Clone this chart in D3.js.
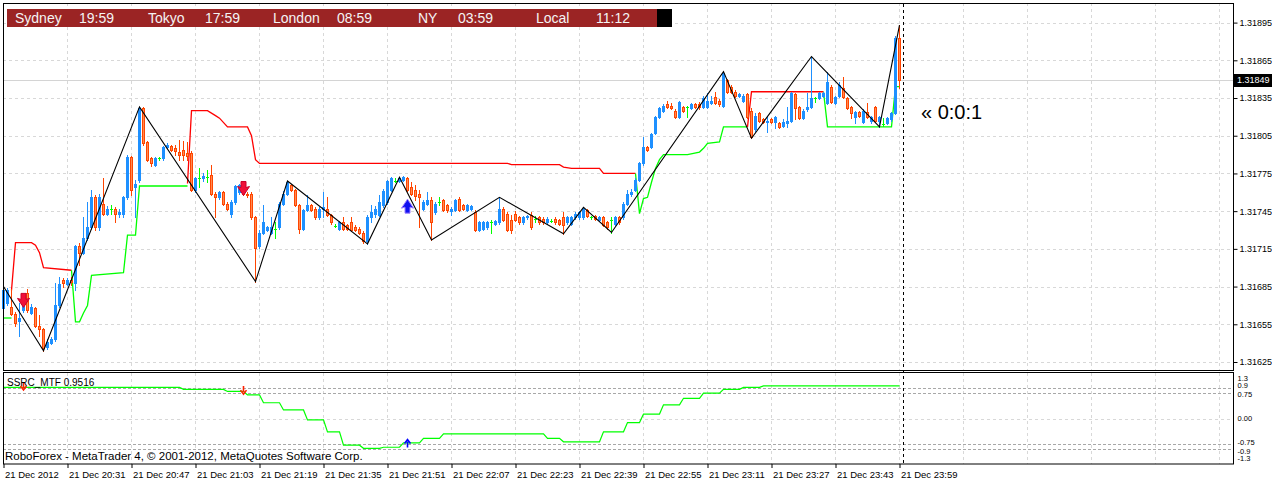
<!DOCTYPE html>
<html><head><meta charset="utf-8">
<script src="https://cdn.jsdelivr.net/npm/d3@7"></script>
<style>
body{margin:0;background:#fff;}
svg{display:block;}
text{font-family:"Liberation Sans",Arial,sans-serif;}
</style>
</head><body>
<svg id="c" width="1272" height="482"></svg>
<script>
// ---------- DATA ----------
const priceTicks = [1.31625,1.31655,1.31685,1.31715,1.31745,1.31775,1.31805,1.31835,1.31865,1.31895];
const timeLabels = ["21 Dec 2012","21 Dec 20:31","21 Dec 20:47","21 Dec 21:03","21 Dec 21:19","21 Dec 21:35","21 Dec 21:51","21 Dec 22:07","21 Dec 22:23","21 Dec 22:39","21 Dec 22:55","21 Dec 23:11","21 Dec 23:27","21 Dec 23:43","21 Dec 23:59"];
const timeIdx = [0,16,32,48,64,80,96,112,128,144,160,176,192,208,224];
const gridIdx = [0,16,32,48,64,80,96,112,128,144,160,176,192,208,224,240,256,272,288,304];
const lastPrice = 1.31849;
const ssrcTicks = [1.3,0.9,0.75,0,-0.75,-0.9,-1.3];
const ssrcTickLabels = ["1.3","0.9","0.75","0.00","-0.75","-0.9","-1.3"];
const ssrcLevels = [0.9,0.75,-0.75,-0.9];
const headerNames = ["Sydney","Tokyo","London","NY","Local"];
const headerTimes = ["19:59","17:59","08:59","03:59","11:12"];

const open = [1.31668,1.31672,1.31669,1.31663,1.31658,1.31666,1.31680,1.31664,1.31668,1.31654,
1.31651,1.31637,1.31640,1.31643,1.31670,1.31690,1.31687,1.31690,1.31688,1.31717,
1.31712,1.31724,1.31732,1.31756,1.31732,1.31751,1.31743,1.31747,1.31747,1.31743,
1.31743,1.31756,1.31788,1.31764,1.31770,1.31827,1.31800,1.31787,1.31782,1.31787,
1.31787,1.31796,1.31797,1.31795,1.31792,1.31794,1.31791,1.31791,1.31762,1.31771,
1.31771,1.31772,1.31774,1.31759,1.31756,1.31760,1.31751,1.31743,1.31752,1.31760,
1.31761,1.31759,1.31759,1.31740,1.31717,1.31728,1.31730,1.31728,1.31731,1.31732,
1.31751,1.31759,1.31766,1.31762,1.31750,1.31731,1.31746,1.31750,1.31747,1.31740,
1.31747,1.31747,1.31742,1.31733,1.31731,1.31736,1.31734,1.31736,1.31732,1.31731,
1.31728,1.31721,1.31740,1.31743,1.31742,1.31750,1.31752,1.31762,1.31769,1.31769,
1.31770,1.31771,1.31764,1.31762,1.31759,1.31747,1.31751,1.31754,1.31744,1.31752,
1.31754,1.31750,1.31745,1.31746,1.31755,1.31750,1.31746,1.31747,1.31744,1.31730,
1.31731,1.31732,1.31736,1.31735,1.31736,1.31747,1.31743,1.31738,1.31743,1.31740,
1.31736,1.31740,1.31742,1.31739,1.31740,1.31739,1.31736,1.31737,1.31739,1.31738,
1.31740,1.31736,1.31735,1.31740,1.31740,1.31740,1.31746,1.31740,1.31741,1.31738,
1.31740,1.31736,1.31738,1.31735,1.31740,1.31740,1.31751,1.31759,1.31762,1.31770,
1.31783,1.31796,1.31796,1.31807,1.31820,1.31825,1.31830,1.31829,1.31825,1.31820,
1.31828,1.31828,1.31827,1.31830,1.31830,1.31828,1.31828,1.31831,1.31836,1.31833,
1.31829,1.31849,1.31844,1.31840,1.31837,1.31833,1.31838,1.31825,1.31810,1.31823,
1.31818,1.31816,1.31818,1.31816,1.31815,1.31813,1.31815,1.31817,1.31838,1.31828,
1.31819,1.31826,1.31828,1.31835,1.31835,1.31837,1.31831,1.31844,1.31831,1.31837,
1.31843,1.31835,1.31828,1.31820,1.31824,1.31816,1.31824,1.31817,1.31828,1.31817,
1.31814,1.31815,1.31818,1.31823,1.31883];

const high = [1.31684,1.31684,1.31683,1.31665,1.31672,1.31677,1.31683,1.31671,1.31669,1.31662,
1.31652,1.31643,1.31645,1.31688,1.31693,1.31692,1.31692,1.31693,1.31718,1.31720,
1.31740,1.31752,1.31762,1.31758,1.31759,1.31771,1.31749,1.31750,1.31748,1.31747,
1.31757,1.31790,1.31789,1.31770,1.31828,1.31828,1.31801,1.31788,1.31788,1.31788,
1.31797,1.31799,1.31798,1.31798,1.31802,1.31801,1.31800,1.31793,1.31772,1.31779,
1.31775,1.31778,1.31782,1.31760,1.31761,1.31761,1.31752,1.31754,1.31766,1.31767,
1.31763,1.31760,1.31760,1.31741,1.31730,1.31750,1.31733,1.31740,1.31736,1.31752,
1.31761,1.31769,1.31767,1.31763,1.31751,1.31747,1.31758,1.31751,1.31748,1.31748,
1.31760,1.31756,1.31743,1.31735,1.31737,1.31740,1.31735,1.31740,1.31734,1.31732,
1.31729,1.31742,1.31750,1.31749,1.31758,1.31763,1.31770,1.31772,1.31771,1.31772,
1.31773,1.31772,1.31768,1.31766,1.31762,1.31754,1.31760,1.31756,1.31752,1.31756,
1.31755,1.31751,1.31748,1.31755,1.31756,1.31751,1.31751,1.31750,1.31746,1.31737,
1.31737,1.31737,1.31738,1.31738,1.31756,1.31748,1.31744,1.31742,1.31745,1.31741,
1.31741,1.31742,1.31744,1.31741,1.31741,1.31740,1.31740,1.31739,1.31740,1.31739,
1.31744,1.31741,1.31741,1.31744,1.31745,1.31748,1.31747,1.31741,1.31742,1.31741,
1.31741,1.31737,1.31740,1.31741,1.31741,1.31752,1.31762,1.31763,1.31771,1.31784,
1.31804,1.31797,1.31807,1.31821,1.31828,1.31830,1.31833,1.31831,1.31826,1.31833,
1.31829,1.31829,1.31831,1.31831,1.31832,1.31837,1.31839,1.31837,1.31840,1.31834,
1.31856,1.31850,1.31845,1.31841,1.31839,1.31838,1.31839,1.31827,1.31823,1.31824,
1.31819,1.31821,1.31819,1.31821,1.31816,1.31818,1.31828,1.31840,1.31839,1.31829,
1.31826,1.31839,1.31868,1.31836,1.31840,1.31840,1.31856,1.31845,1.31837,1.31848,
1.31852,1.31836,1.31829,1.31825,1.31825,1.31826,1.31831,1.31821,1.31829,1.31821,
1.31819,1.31820,1.31824,1.31884,1.31893];

const low = [1.31666,1.31670,1.31662,1.31654,1.31646,1.31665,1.31665,1.31663,1.31653,1.31646,
1.31634,1.31635,1.31639,1.31642,1.31669,1.31685,1.31686,1.31686,1.31682,1.31702,
1.31711,1.31722,1.31731,1.31730,1.31730,1.31742,1.31742,1.31743,1.31736,1.31740,
1.31740,1.31755,1.31758,1.31740,1.31768,1.31798,1.31785,1.31781,1.31781,1.31786,
1.31786,1.31795,1.31793,1.31790,1.31786,1.31786,1.31786,1.31761,1.31760,1.31764,
1.31769,1.31768,1.31758,1.31740,1.31755,1.31750,1.31746,1.31740,1.31751,1.31759,
1.31758,1.31756,1.31739,1.31689,1.31716,1.31727,1.31729,1.31727,1.31724,1.31731,
1.31750,1.31758,1.31761,1.31749,1.31728,1.31730,1.31745,1.31745,1.31739,1.31739,
1.31740,1.31741,1.31735,1.31732,1.31730,1.31730,1.31730,1.31729,1.31729,1.31727,
1.31720,1.31719,1.31736,1.31740,1.31741,1.31748,1.31751,1.31761,1.31768,1.31768,
1.31769,1.31761,1.31758,1.31754,1.31732,1.31746,1.31750,1.31722,1.31743,1.31750,
1.31745,1.31744,1.31742,1.31745,1.31745,1.31746,1.31745,1.31746,1.31729,1.31729,
1.31730,1.31731,1.31728,1.31734,1.31735,1.31737,1.31729,1.31728,1.31737,1.31735,
1.31735,1.31739,1.31731,1.31736,1.31735,1.31735,1.31735,1.31736,1.31735,1.31734,
1.31727,1.31735,1.31734,1.31739,1.31739,1.31739,1.31740,1.31739,1.31738,1.31737,
1.31733,1.31731,1.31728,1.31734,1.31735,1.31739,1.31750,1.31757,1.31761,1.31769,
1.31782,1.31793,1.31795,1.31806,1.31819,1.31824,1.31827,1.31826,1.31819,1.31819,
1.31824,1.31820,1.31826,1.31827,1.31826,1.31827,1.31827,1.31830,1.31830,1.31829,
1.31828,1.31839,1.31839,1.31836,1.31836,1.31832,1.31819,1.31803,1.31809,1.31816,
1.31815,1.31808,1.31815,1.31811,1.31811,1.31812,1.31812,1.31816,1.31818,1.31818,
1.31818,1.31825,1.31827,1.31832,1.31834,1.31836,1.31830,1.31831,1.31830,1.31836,
1.31835,1.31826,1.31819,1.31815,1.31820,1.31815,1.31819,1.31815,1.31816,1.31812,
1.31813,1.31814,1.31817,1.31822,1.31843];

const close = [1.31682,1.31682,1.31663,1.31656,1.31660,1.31676,1.31666,1.31669,1.31654,1.31651,
1.31636,1.31641,1.31643,1.31670,1.31687,1.31688,1.31690,1.31689,1.31717,1.31712,
1.31724,1.31732,1.31756,1.31732,1.31756,1.31743,1.31747,1.31747,1.31743,1.31744,
1.31756,1.31788,1.31762,1.31767,1.31827,1.31799,1.31786,1.31783,1.31787,1.31787,
1.31796,1.31798,1.31794,1.31793,1.31790,1.31790,1.31789,1.31762,1.31771,1.31771,
1.31773,1.31772,1.31759,1.31756,1.31760,1.31751,1.31747,1.31752,1.31765,1.31766,
1.31759,1.31758,1.31740,1.31716,1.31728,1.31736,1.31732,1.31732,1.31731,1.31751,
1.31759,1.31768,1.31762,1.31750,1.31731,1.31746,1.31750,1.31746,1.31740,1.31747,
1.31748,1.31742,1.31736,1.31733,1.31736,1.31731,1.31731,1.31730,1.31730,1.31728,
1.31721,1.31740,1.31744,1.31747,1.31752,1.31761,1.31769,1.31771,1.31769,1.31771,
1.31772,1.31762,1.31759,1.31757,1.31756,1.31752,1.31754,1.31736,1.31751,1.31752,
1.31746,1.31746,1.31747,1.31754,1.31746,1.31747,1.31750,1.31749,1.31730,1.31736,
1.31736,1.31736,1.31736,1.31737,1.31747,1.31738,1.31730,1.31730,1.31738,1.31736,
1.31740,1.31741,1.31732,1.31739,1.31736,1.31736,1.31739,1.31737,1.31736,1.31735,
1.31734,1.31740,1.31740,1.31743,1.31744,1.31747,1.31741,1.31740,1.31739,1.31740,
1.31734,1.31732,1.31738,1.31740,1.31736,1.31751,1.31759,1.31760,1.31770,1.31783,
1.31796,1.31794,1.31806,1.31820,1.31827,1.31829,1.31828,1.31827,1.31820,1.31832,
1.31825,1.31828,1.31830,1.31828,1.31828,1.31835,1.31833,1.31833,1.31831,1.31830,
1.31855,1.31840,1.31840,1.31837,1.31838,1.31837,1.31820,1.31804,1.31821,1.31817,
1.31816,1.31817,1.31816,1.31820,1.31812,1.31816,1.31817,1.31839,1.31827,1.31819,
1.31825,1.31828,1.31835,1.31835,1.31839,1.31839,1.31848,1.31832,1.31836,1.31845,
1.31836,1.31827,1.31823,1.31824,1.31821,1.31825,1.31820,1.31820,1.31817,1.31820,
1.31814,1.31819,1.31823,1.31883,1.31849];

// trailing stop line: [bar index, price]
const supportA = [[0,1.31660],[2,1.31660]];
const resistA  = [[2,1.31682],[3,1.31720],[7,1.31720],[8,1.31718],[9,1.31712],[10,1.31700],[17,1.31698]];
const supportB = [[17,1.31698],[18,1.31657],[19,1.31657],[20,1.31664],[21,1.31670],[22,1.31694],[30,1.31696],[31,1.31726],[33,1.31726],[34,1.31765],[46,1.31765]];
const resistB  = [[46,1.31767],[47,1.31825],[51,1.31825],[53,1.31821],[54,1.31819],[56,1.31812],[61,1.31812],[62,1.31805],[63,1.31786],[64,1.31783],[126,1.31783],[127,1.31782],[139,1.31782],[140,1.31780],[142,1.31779],[149,1.31779],[150,1.31775],[158,1.31775]];
const supportC = [[158,1.31775],[159,1.31743],[160,1.31755],[161,1.31756],[162,1.31768],[163,1.31779],[164,1.31786],[165,1.31790],[171,1.31790],[174,1.31792],[175,1.31795],[176,1.31799],[179,1.31800],[180,1.31812],[186,1.31812]];
const resistC  = [[186,1.31812],[187,1.31840],[205,1.31840]];
const supportD = [[205,1.31840],[206,1.31812],[222,1.31812],[223,1.31844],[224,1.31844]];

// zigzag
const zigIdx = [0,10,34,63,71,91,99,107,124,140,145,152,180,187,202,219,224];
const zigVal = [1.31685,1.31634,1.31828,1.31689,1.31769,1.31719,1.31772,1.31722,1.31756,1.31727,1.31748,1.31728,1.31856,1.31803,1.31868,1.31812,1.31893];

// signals
const sellIdx = [5,60], sellPrice = [1.31674,1.31763];
const buyIdx = [101], buyPrice = [1.31749];
const subSellVal = [0.92,0.80], subBuyVal = [-0.70];

// SSRC_MTF (step levels)
const ssrcIdx = [0,45,56,61,65,70,76,81,85,90,95,100,105,110,136,140,150,156,160,165,170,175,180,185,190];
const ssrcVal = [0.91,0.85,0.79,0.69,0.46,0.25,-0.04,-0.39,-0.78,-0.87,-0.84,-0.71,-0.58,-0.45,-0.58,-0.68,-0.39,-0.12,0.13,0.40,0.59,0.74,0.85,0.91,0.9516];
const lastBar = 224;

// ---------- DRAW ----------
const svg = d3.select("#c");
const L = 3, R = 1233, mainTop = 3, mainBot = 370, subTop = 373, subBot = 464;

const x = d3.scaleLinear().domain([0, 307.5]).range([3, 1233]);
const y = d3.scaleLinear().domain([1.31625, 1.31895]).range([362, 22.6]);
const ys = d3.scaleLinear().domain([-1.3, 1.3]).range([463, 374]);

svg.append("rect").attr("width",1272).attr("height",482).attr("fill","#fff");

const gridCol = "#D8D8D8";
const g = svg.append("g");
gridIdx.forEach(i => {
  const xx = Math.round(x(i)) + 0.5;
  g.append("line").attr("x1",xx).attr("x2",xx).attr("y1",mainTop).attr("y2",mainBot)
    .attr("stroke",gridCol).attr("stroke-dasharray","3,3");
  g.append("line").attr("x1",xx).attr("x2",xx).attr("y1",subTop).attr("y2",subBot)
    .attr("stroke",gridCol).attr("stroke-dasharray","3,3");
});
priceTicks.forEach(p => {
  const yy = Math.round(y(p)) + 0.5;
  g.append("line").attr("x1",L).attr("x2",R).attr("y1",yy).attr("y2",yy)
    .attr("stroke",gridCol).attr("stroke-dasharray","3,3");
});
g.append("line").attr("x1",L).attr("x2",R).attr("y1",Math.round(ys(0))+0.5).attr("y2",Math.round(ys(0))+0.5)
  .attr("stroke",gridCol).attr("stroke-dasharray","3,3");
ssrcLevels.forEach(v => {
  const yy = Math.round(ys(v)) + 0.5;
  g.append("line").attr("x1",L).attr("x2",R).attr("y1",yy).attr("y2",yy)
    .attr("stroke","#A8A8A8").attr("stroke-dasharray","3,2");
});

// bid line
svg.append("line").attr("x1",L).attr("x2",R)
  .attr("y1",Math.round(y(lastPrice))+0.5).attr("y2",Math.round(y(lastPrice))+0.5)
  .attr("stroke","#D4D4D4");

// trailing stop lines
const segLine = d3.line().x(d => x(d[0]) + 0.5).y(d => y(d[1]));
[[supportA,"#00FF00"],[resistA,"#FF0000"],[supportB,"#00FF00"],[resistB,"#FF0000"],
 [supportC,"#00FF00"],[resistC,"#FF0000"],[supportD,"#00FF00"]].forEach(([d,c]) => {
  svg.append("path").attr("d",segLine(d)).attr("fill","none").attr("stroke",c).attr("stroke-width",1.3);
});

// candles
const idx = d3.range(open.length);
const cg = svg.append("g");
idx.forEach(i => {
  const cx = Math.round(x(i));
  const o = open[i], c = close[i];
  const bull = c > o, doji = c === o;
  const col = doji ? "#00FF00" : (bull ? "#1E90FF" : "#FF4500");
  cg.append("line").attr("x1",cx+0.5).attr("x2",cx+0.5)
    .attr("y1",Math.round(y(high[i]))).attr("y2",Math.round(y(low[i]))+1)
    .attr("stroke",col);
  if (doji) {
    const yy = Math.round(y(o)) + 0.5;
    cg.append("line").attr("x1",cx-1).attr("x2",cx+2).attr("y1",yy).attr("y2",yy).attr("stroke",col);
  } else {
    const top = Math.round(y(Math.max(o,c))), bot = Math.round(y(Math.min(o,c)));
    const h = Math.max(1, bot - top);
    if (bull) {
      cg.append("rect").attr("x",cx-1).attr("y",top).attr("width",3).attr("height",h+1).attr("fill",col);
    } else {
      cg.append("rect").attr("x",cx-0.5).attr("y",top+0.5).attr("width",2).attr("height",h)
        .attr("fill","#FF8A50").attr("stroke","#FF4500").attr("stroke-width",1);
    }
  }
});

// zigzag
const zz = zigIdx.map((d,k) => [d, zigVal[k]]);
svg.append("path").attr("d", d3.line().x(d => x(d[0]) + 0.5).y(d => y(d[1]))(zz))
  .attr("fill","none").attr("stroke","#000").attr("stroke-width",1.1);

// big arrows
const downArrow = "M-2.5,-7 L2.5,-7 L2.5,-1 L6,-2 L0,7 L-6,-2 L-2.5,-1 Z";
const upArrow = "M-2.5,7 L2.5,7 L2.5,1 L6,2 L0,-7 L-6,2 L-2.5,1 Z";
sellIdx.forEach((d,k) => {
  svg.append("path").attr("d",downArrow)
    .attr("transform",`translate(${Math.round(x(d))+0.5},${y(sellPrice[k])})`)
    .attr("fill","#F0103A").attr("stroke","#C8002A").attr("stroke-width",1);
});
buyIdx.forEach((d,k) => {
  svg.append("path").attr("d",upArrow)
    .attr("transform",`translate(${Math.round(x(d))+0.5},${y(buyPrice[k])})`)
    .attr("fill","#1010F0").attr("stroke","#9A7CFF").attr("stroke-width",1);
});

// SSRC line
const sp = [];
ssrcIdx.forEach((d,k) => {
  if (k > 0) sp.push([d-1, ssrcVal[k-1]]);
  sp.push([d, ssrcVal[k]]);
});
sp.push([lastBar, ssrcVal[ssrcVal.length-1]]);
svg.append("path").attr("d", d3.line().x(d => x(d[0]) + 0.5).y(d => ys(d[1]))(sp))
  .attr("fill","none").attr("stroke","#00FF00").attr("stroke-width",1.2);

// small arrows in sub panel
const smallDown = "M0,-5 L0,1 M-3,-1 L0,3 L3,-1";
const smallUp = "M0,5 L0,-1 M-3,1 L0,-3 L3,1";
sellIdx.forEach((d,k) => {
  svg.append("path").attr("d",smallDown)
    .attr("transform",`translate(${Math.round(x(d))+0.5},${ys(subSellVal[k])})`)
    .attr("fill","none").attr("stroke","#FF2000").attr("stroke-width",1.6);
});
buyIdx.forEach((d,k) => {
  svg.append("path").attr("d",smallUp)
    .attr("transform",`translate(${Math.round(x(d))+0.5},${ys(subBuyVal[k])})`)
    .attr("fill","none").attr("stroke","#0000FF").attr("stroke-width",1.6);
});

// timer vertical dashed line
const vx = Math.round(x(lastBar + 1)) + 0.5;
svg.append("line").attr("x1",vx).attr("x2",vx).attr("y1",mainTop+1).attr("y2",subBot)
  .attr("stroke","#000").attr("stroke-dasharray","3,3");
svg.append("text").attr("x",921).attr("y",119).attr("font-size",20).attr("fill","#000").text("\u00AB 0:0:1");

// frames
svg.append("rect").attr("x",L+0.5).attr("y",mainTop+0.5).attr("width",R-L).attr("height",mainBot-mainTop)
  .attr("fill","none").attr("stroke","#000");
svg.append("rect").attr("x",L+0.5).attr("y",subTop-0.5).attr("width",R-L).attr("height",subBot-subTop+0.5)
  .attr("fill","none").attr("stroke","#000");

// price axis
const ya = svg.append("g").attr("transform",`translate(${R+0.5},0)`)
  .call(d3.axisRight(y).tickValues(priceTicks).tickFormat(d3.format(".5f")).tickSize(4).tickPadding(2));
ya.select(".domain").remove();
ya.selectAll("line").attr("stroke","#000");
ya.selectAll("text").attr("font-size",9).attr("fill","#000").attr("font-family","Liberation Sans, Arial, sans-serif");

// current price label
const ly = y(lastPrice);
svg.append("rect").attr("x",R+1).attr("y",Math.round(ly)-6).attr("width",1272-R-1).attr("height",13).attr("fill","#000");
svg.append("text").attr("x",R+4).attr("y",ly).attr("dy","0.34em").attr("font-size",9).attr("fill","#fff").text(lastPrice.toFixed(5));

// sub axis labels (nudged apart slightly so the crowded ones stay legible)
const nudge = {"1.3":4.5, "0.9":-2, "0.75":1.5, "0.00":0, "-0.75":-1.5, "-0.9":2, "-1.3":-4.5};
const sa = svg.append("g").attr("transform",`translate(${R+0.5},0)`);
ssrcTicks.forEach((v,k) => {
  const lab = ssrcTickLabels[k];
  sa.append("text").attr("x",4).attr("y",ys(v) + nudge[lab]).attr("dy","0.34em")
    .attr("font-size",7.5).attr("fill","#000").text(lab);
});

// time axis
const xa = svg.append("g").attr("transform",`translate(0.5,${subBot})`)
  .call(d3.axisBottom(x).tickValues(timeIdx).tickFormat((d,k) => timeLabels[k]).tickSize(4).tickPadding(3));
xa.select(".domain").remove();
xa.selectAll("line").attr("stroke","#000");
xa.selectAll("text").attr("text-anchor","start").attr("x",1).attr("font-size",9.5).attr("fill","#000")
  .attr("font-family","Liberation Sans, Arial, sans-serif");

// sub panel texts
svg.append("text").attr("x",7).attr("y",386).attr("font-size",10).attr("fill","#000").text("SSRC_MTF 0.9516");
svg.append("text").attr("x",5).attr("y",460).attr("font-size",11.5).attr("fill","#000")
  .text("RoboForex - MetaTrader 4, \u00A9 2001-2012, MetaQuotes Software Corp.");

// header clock bar
svg.append("rect").attr("x",7).attr("y",9).attr("width",650).attr("height",18).attr("fill","#9B2424");
svg.append("rect").attr("x",657).attr("y",9).attr("width",15).attr("height",18).attr("fill","#000");
const nameX = [15,148,273,418,536], timeX = [79,205,337,458,596];
headerNames.forEach((n,k) => {
  svg.append("text").attr("x",nameX[k]).attr("y",23).attr("font-size",14).attr("fill","#F4F4F4").text(n);
  svg.append("text").attr("x",timeX[k]).attr("y",23).attr("font-size",14).attr("fill","#F4F4F4").text(headerTimes[k]);
});
</script>
</body></html>
